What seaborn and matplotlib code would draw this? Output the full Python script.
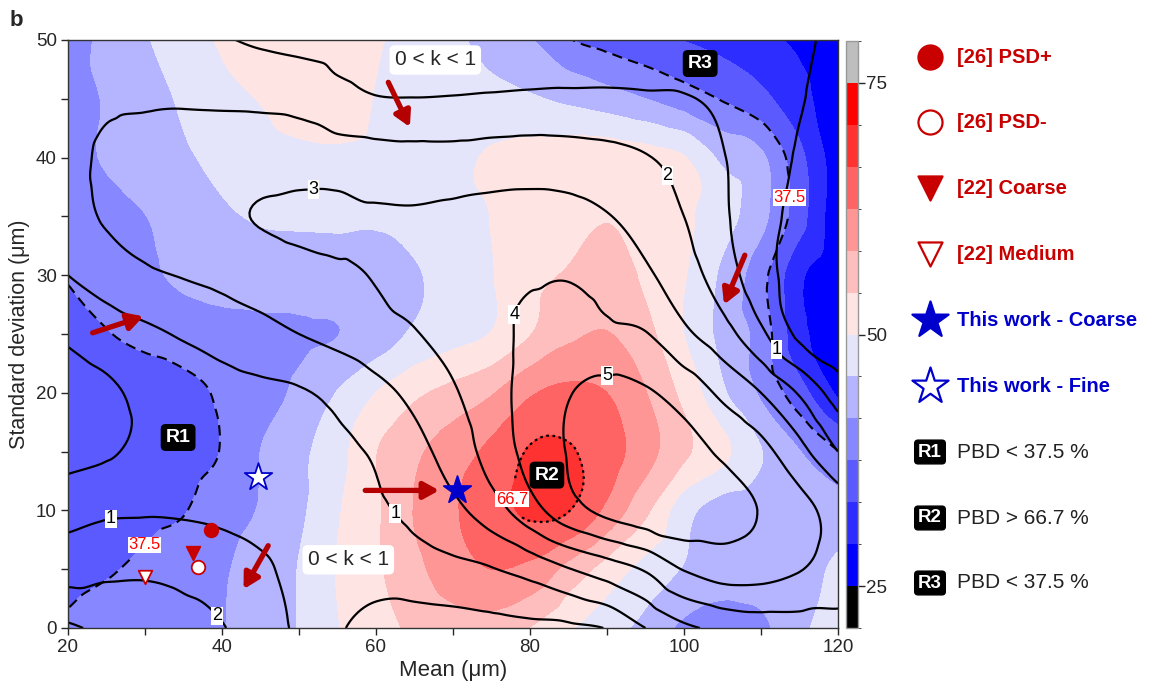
import numpy as np
import matplotlib
matplotlib.use("Agg")
import matplotlib.pyplot as plt
import matplotlib.tri as mtri
from matplotlib.colors import ListedColormap, BoundaryNorm
import seaborn as sns
import pandas as pd

sns.set_style("ticks")
plt.rcParams["font.family"] = ["Liberation Sans", "DejaVu Sans"]

# ---------------- data ----------------
mean_um = np.arange(20, 121, 5)          # x grid
std_um = np.arange(0, 51, 5)             # y grid

# PBD (%) ; rows = std 0..50, columns = mean 20..120
pbd = np.array([
    [38.0, 39.0, 39.5, 40.2, 41.5, 43.5, 46.0, 49.8, 52.5, 55.0, 56.5, 56.5, 54.0, 50.5, 47.5, 44.5, 40.8, 39.5, 41.0, 44.5, 50.0],
    [36.5, 37.2, 38.2, 39.6, 41.2, 43.5, 46.0, 50.2, 53.5, 57.2, 60.5, 62.5, 61.5, 57.0, 52.5, 48.5, 45.5, 43.5, 43.0, 44.5, 46.5],
    [35.5, 35.8, 36.5, 37.3, 39.8, 42.0, 45.0, 49.6, 53.5, 58.5, 62.0, 65.0, 67.3, 66.8, 61.5, 55.0, 47.5, 44.0, 43.5, 43.0, 43.5],
    [34.5, 34.7, 35.0, 36.0, 37.7, 41.7, 44.8, 48.5, 54.0, 57.5, 60.5, 63.5, 67.0, 67.0, 64.5, 60.0, 55.0, 51.0, 46.0, 41.8, 37.6],
    [34.8, 35.0, 35.5, 36.5, 38.0, 40.0, 42.5, 46.0, 50.0, 53.3, 55.5, 58.0, 62.0, 63.5, 62.5, 58.5, 53.0, 46.5, 41.0, 35.0, 28.5],
    [35.5, 37.3, 38.5, 39.3, 40.0, 40.5, 41.0, 41.6, 43.5, 46.5, 48.5, 50.2, 54.0, 57.5, 58.5, 55.5, 50.0, 44.5, 40.0, 30.5, 26.5],
    [37.8, 39.3, 40.8, 42.5, 43.5, 44.0, 44.2, 44.3, 44.6, 45.5, 47.3, 49.8, 53.0, 54.5, 56.0, 53.5, 50.3, 45.0, 39.0, 30.0, 26.0],
    [38.8, 40.3, 41.6, 43.2, 45.2, 46.2, 46.4, 46.5, 46.3, 47.2, 48.5, 50.1, 52.0, 53.2, 54.0, 53.2, 50.8, 47.5, 43.0, 35.0, 26.0],
    [40.5, 42.0, 43.5, 45.2, 47.0, 48.2, 49.0, 49.3, 49.0, 48.5, 49.0, 50.5, 51.5, 52.3, 52.5, 51.8, 50.2, 45.0, 42.5, 34.5, 26.5],
    [40.0, 42.0, 44.0, 46.5, 49.0, 50.2, 52.0, 52.0, 49.8, 48.0, 47.0, 47.0, 46.3, 45.0, 43.5, 41.7, 39.5, 37.2, 34.5, 30.5, 26.5],
    [39.0, 43.0, 45.5, 48.0, 50.5, 52.5, 53.5, 53.5, 50.5, 48.5, 46.5, 44.5, 42.0, 37.8, 36.0, 34.5, 33.2, 31.7, 30.2, 28.5, 27.0],
])

# k exponent ; rows = std 0..50, columns = mean 20..120
k_val = np.array([
    [3.15, 2.80, 2.55, 2.30, 2.05, 1.40, 0.85, 0.10, -0.30, -0.45, -0.45, -0.35, -0.25, -0.20, 0.05, 1.00, 1.80, 2.20, 2.45, 2.60, 2.75],
    [1.60, 1.80, 1.85, 1.75, 1.50, 1.15, 0.75, 0.45, 0.35, 0.55, 0.75, 0.95, 1.35, 1.95, 2.50, 3.10, 4.05, 4.45, 4.40, 4.05, 3.50],
    [0.65, 0.85, 0.90, 0.88, 0.80, 0.70, 0.65, 0.75, 0.85, 1.25, 1.75, 2.55, 3.60, 4.60, 5.25, 5.60, 5.65, 5.40, 4.95, 4.30, 3.60],
    [-0.30, -0.10, 0.20, 0.40, 0.55, 0.65, 0.75, 0.88, 1.10, 1.70, 2.40, 3.40, 4.30, 5.05, 5.50, 5.55, 5.35, 4.85, 4.30, 3.30, 2.00],
    [-0.40, -0.15, 0.20, 0.45, 0.65, 0.80, 0.92, 1.20, 1.70, 2.25, 2.90, 3.60, 4.35, 4.95, 5.25, 5.10, 4.60, 3.80, 3.00, 1.90, 0.50],
    [0.15, 0.50, 0.80, 1.10, 1.40, 1.70, 2.00, 2.30, 2.65, 2.95, 3.30, 3.75, 4.15, 4.30, 4.20, 4.05, 3.20, 2.40, 1.20, -0.20, -0.60],
    [1.00, 1.45, 1.85, 2.05, 2.25, 2.45, 2.65, 2.85, 3.05, 3.30, 3.55, 3.75, 3.90, 3.95, 3.70, 3.15, 2.45, 1.50, 0.40, -0.40, -0.80],
    [1.60, 2.10, 2.35, 2.60, 2.85, 3.05, 3.20, 3.25, 3.10, 3.10, 3.20, 3.30, 3.35, 3.30, 3.05, 2.60, 2.00, 1.15, 0.40, -0.30, -0.70],
    [1.70, 2.15, 2.30, 2.45, 2.55, 2.60, 2.55, 2.45, 2.40, 2.35, 2.35, 2.45, 2.50, 2.45, 2.30, 2.05, 1.70, 1.05, 0.50, -0.10, -0.50],
    [1.55, 1.85, 1.90, 1.90, 1.85, 1.80, 1.70, 1.30, 1.05, 1.02, 1.05, 1.10, 1.15, 1.17, 1.17, 1.12, 1.06, 0.85, 0.55, 0.05, -0.20],
    [1.50, 1.60, 1.55, 1.35, 1.08, 0.85, 0.70, 0.60, 0.55, 0.50, 0.48, 0.45, 0.42, 0.40, 0.40, 0.40, 0.38, 0.32, 0.25, 0.10, -0.15],
])

pbd_levels = np.linspace(25 - 25 / 6, 75 + 25 / 6, 15)
band_colors = ["#000000", "#0000ff", "#2d2dff", "#5a5aff", "#8787ff", "#b4b4ff",
               "#e4e4fa", "#ffe4e4", "#ffbebe", "#ff9696", "#ff6464", "#ff3232",
               "#ff0000", "#bebebe"]
k_levels_labeled = [1, 2, 3, 4, 5]
k_levels_zero = [0]

points = pd.DataFrame({
    "name": ["[26] PSD+", "[26] PSD-", "[22] Coarse", "[22] Medium",
             "This work - Coarse", "This work - Fine"],
    "mean": [38.6, 36.9, 36.2, 30.0, 70.5, 44.7],
    "std": [8.3, 5.2, 6.4, 4.3, 11.7, 12.8],
})

# ---------------- figure ----------------
W, H = 1151, 691
fig = plt.figure(figsize=(W / 100, H / 100), dpi=100)
ax = fig.add_axes([68 / W, 1 - 628 / H, (838 - 68) / W, (628 - 40) / H])

X, Y = np.meshgrid(mean_um, std_um)
tri = mtri.Triangulation(X.ravel(), Y.ravel())
refiner = mtri.UniformTriRefiner(tri)
ip = mtri.CubicTriInterpolator(tri, pbd.ravel(), kind="geom")
tri_f, pbd_f = refiner.refine_field(pbd.ravel(), triinterpolator=ip, subdiv=4)
ik = mtri.CubicTriInterpolator(tri, k_val.ravel(), kind="geom")
tri_k, k_f = refiner.refine_field(k_val.ravel(), triinterpolator=ik, subdiv=4)

cmap = ListedColormap(band_colors)
norm = BoundaryNorm(pbd_levels, cmap.N)
cf = ax.tricontourf(tri_f, pbd_f, levels=pbd_levels, cmap=cmap, norm=norm)

cs_d = ax.tricontour(tri_f, pbd_f, levels=[37.5], colors="black",
                     linewidths=1.5, linestyles=[(0, (5, 3))])
cs_r = ax.tricontour(tri_f, pbd_f, levels=[200 / 3], colors="black",
                     linewidths=1.6, linestyles=[(0, (1.2, 1.6))])
cs_k = ax.tricontour(tri_k, k_f, levels=k_levels_labeled, colors="black", linewidths=1.6)
cs_k0 = ax.tricontour(tri_k, k_f, levels=k_levels_zero, colors="black", linewidths=1.6)

lab_k = ax.clabel(cs_k, fmt="%d", fontsize=13, inline=True, inline_spacing=1,
                  manual=[(25.5, 9.6), (39.7, 1.2), (62.9, 9.9), (111.8, 23.6),
                          (97.9, 38.5), (52.0, 35.8), (78.3, 26.6), (90.0, 20.6)])
for t in lab_k:
    t.set_rotation(0)
    t.set_bbox(dict(facecolor="white", edgecolor="none", pad=0.6))
lab_d = ax.clabel(cs_d, fmt=lambda v: "37.5", fontsize=12, colors="red", inline=True,
                  manual=[(30.6, 6.6), (113.5, 36.6)])
lab_r = ax.clabel(cs_r, fmt=lambda v: "66.7", fontsize=12, colors="red", inline=True,
                  manual=[(77.0, 10.9)])
for t in list(lab_d) + list(lab_r):
    t.set_bbox(dict(facecolor="white", edgecolor="none", pad=0.5))
    t.set_rotation(0)

# markers
red = "#c80000"
blue = "#0000cc"
styles = {
    "[26] PSD+": dict(marker="o", s=95, facecolor=red, edgecolor=red),
    "[26] PSD-": dict(marker="o", s=95, facecolor="white", edgecolor=red),
    "[22] Coarse": dict(marker="v", s=95, facecolor=red, edgecolor=red),
    "[22] Medium": dict(marker="v", s=95, facecolor="white", edgecolor=red),
    "This work - Coarse": dict(marker="*", s=430, facecolor=blue, edgecolor=blue),
    "This work - Fine": dict(marker="*", s=430, facecolor="white", edgecolor=blue),
}
for _, row in points.iterrows():
    st = styles[row["name"]]
    sns.scatterplot(x=[row["mean"]], y=[row["std"]], ax=ax, marker=st["marker"],
                    s=st["s"], color=st["facecolor"], edgecolor=st["edgecolor"],
                    linewidth=1.3, zorder=6, legend=False)

# arrows
arrow_col = "#b40000"
for (x0, y0), (x1, y1) in [((61.6, 46.4), (64.4, 42.6)), ((107.9, 31.7), (105.2, 27.5)),
                           ((23.2, 25.1), (29.8, 26.5)), ((58.6, 11.7), (68.2, 11.7)),
                           ((46.0, 7.0), (42.8, 3.3))]:
    ax.annotate("", xy=(x1, y1), xytext=(x0, y0),
                arrowprops=dict(arrowstyle="-|>,head_width=0.5,head_length=0.9",
                                color=arrow_col, lw=3.8, shrinkA=0, shrinkB=0),
                zorder=7)

# annotations
for (x, y) in [(67.7, 48.3), (56.4, 5.8)]:
    ax.text(x, y, "0 < k < 1", fontsize=15, ha="center", va="center", zorder=8,
            bbox=dict(boxstyle="round,pad=0.25", facecolor="white", edgecolor="none"))
for (x, y, s) in [(34.3, 16.2, "R1"), (82.2, 13.0, "R2"), (102.1, 48.0, "R3")]:
    ax.text(x, y, s, fontsize=14, fontweight="bold", color="white", ha="center",
            va="center", zorder=8,
            bbox=dict(boxstyle="round,pad=0.22", facecolor="black", edgecolor="black"))

ax.set_xlim(20, 120)
ax.set_ylim(0, 50)
ax.set_xticks(np.arange(20, 121, 20))
ax.set_xticks(np.arange(30, 120, 20), minor=True)
ax.set_yticks(np.arange(0, 51, 10))
ax.set_yticks(np.arange(5, 50, 10), minor=True)
ax.tick_params(which="both", direction="out", length=5, width=1, labelsize=13.5, pad=3)
ax.set_xlabel("Mean (\u03bcm)", fontsize=16, labelpad=3)
ax.set_ylabel("Standard deviation (\u03bcm)", fontsize=15.5, labelpad=4)
for sp in ax.spines.values():
    sp.set_visible(True)
    sp.set_linewidth(1.0)
    sp.set_color("#333333")

# colorbar
cax = fig.add_axes([846 / W, 1 - 628 / H, 12 / W, (628 - 41) / H])
cb = fig.colorbar(cf, cax=cax, ticks=[25, 50, 75])
cb.ax.tick_params(labelsize=13.5, length=5, width=1, pad=1)
cb.outline.set_edgecolor("#999999")
cb.outline.set_linewidth(1.0)

fig.text(10 / W, 1 - 20 / H, "b", fontsize=16, fontweight="bold", va="center")

# legend panel
lax = fig.add_axes([0.79, 0.0, 0.21, 1.0])
lax.set_xlim(0, 1)
lax.set_ylim(H, 0)
lax.axis("off")
mx = (930 - 0.79 * W) / (0.21 * W)
tx = (957 - 0.79 * W) / (0.21 * W)
rows = [57, 122, 188, 254, 320, 386, 452, 518, 583]
leg_items = [
    ("o", red, red, 300, "[26] PSD+", red),
    ("o", "white", red, 300, "[26] PSD-", red),
    ("v", red, red, 300, "[22] Coarse", red),
    ("v", "white", red, 300, "[22] Medium", red),
    ("*", blue, blue, 750, "This work - Coarse", blue),
    ("*", "white", blue, 750, "This work - Fine", blue),
]
for (mk, fc, ec, s, lbl, tc), yy in zip(leg_items, rows[:6]):
    lax.scatter([mx], [yy], marker=mk, s=s, facecolor=fc, edgecolor=ec, linewidth=1.6)
    lax.text(tx, yy, lbl, color=tc, fontsize=14.5, fontweight="bold", va="center")
for (tag, lbl), yy in zip([("R1", "PBD < 37.5 %"), ("R2", "PBD > 66.7 %"),
                           ("R3", "PBD < 37.5 %")], rows[6:]):
    lax.text(mx, yy, tag, fontsize=13.5, fontweight="bold", color="white",
             ha="center", va="center",
             bbox=dict(boxstyle="round,pad=0.18", facecolor="black", edgecolor="black"))
    lax.text(tx, yy, lbl, color="#222222", fontsize=15, va="center")

fig.savefig("out.png", dpi=100)
